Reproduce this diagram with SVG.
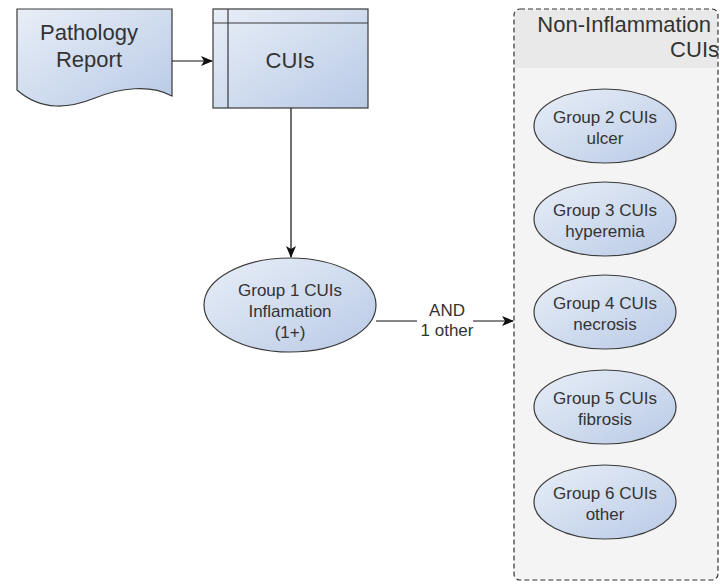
<svg xmlns="http://www.w3.org/2000/svg" width="720" height="584" viewBox="0 0 720 584">
<defs>
<linearGradient id="g" x1="0" y1="0" x2="1" y2="1">
<stop offset="0" stop-color="#e8eef7"/>
<stop offset="1" stop-color="#b9cae6"/>
</linearGradient>
<marker id="arr" markerWidth="12" markerHeight="10" refX="11" refY="5" orient="auto" markerUnits="userSpaceOnUse">
<path d="M0,0 L12,5 L0,10 L3,5 Z" fill="#111"/>
</marker>
<style>
.shape{fill:url(#g);stroke:#3a3a3a;stroke-width:1.2}
.big{font-family:"Liberation Sans",Arial,sans-serif;font-size:22px;fill:#333;text-anchor:middle}
.sm{font-family:"Liberation Sans",Arial,sans-serif;font-size:17px;fill:#333;text-anchor:middle}
.conn{stroke:#111;stroke-width:1.2;fill:none}
</style>
</defs>
<rect width="720" height="584" fill="#fff"/>
<g id="container">
<rect x="514" y="9" width="204" height="571" rx="6" fill="#f4f4f4" stroke="#333" stroke-width="1.2" stroke-dasharray="5,3"/>
<path d="M515,68 V15 Q515,10 520,10 H712 Q717,10 717,15 V68 Z" fill="#e9e9e9"/>
<text class="big" x="711" y="32" style="text-anchor:end">Non-Inflammation</text>
<text class="big" x="719" y="57" style="text-anchor:end">CUIs</text>
</g>
<g id="pathology">
<path class="shape" d="M17,9 H172 V96 C150,84 120,88 95,98 C70,108 42,112 17,90 Z"/>
<text class="big" x="89" y="40">Pathology</text>
<text class="big" x="89" y="67">Report</text>
</g>
<g id="cuis">
<rect class="shape" x="213" y="9" width="155" height="99"/>
<line x1="213" y1="23" x2="368" y2="23" stroke="#3a3a3a" stroke-width="1.2"/>
<line x1="228" y1="9" x2="228" y2="108" stroke="#3a3a3a" stroke-width="1.2"/>
<text class="big" x="290" y="68">CUIs</text>
</g>
<g id="group1">
<ellipse class="shape" cx="290" cy="305" rx="86" ry="47"/>
<text class="sm" x="290" y="296">Group 1 CUIs</text>
<text class="sm" x="290" y="317">Inflamation</text>
<text class="sm" x="290" y="338">(1+)</text>
</g>
<g id="group2">
<ellipse class="shape" cx="605" cy="126" rx="71" ry="37"/>
<text class="sm" x="605" y="123">Group 2 CUIs</text>
<text class="sm" x="605" y="144">ulcer</text>
</g>
<g id="group3">
<ellipse class="shape" cx="605" cy="219" rx="71" ry="37"/>
<text class="sm" x="605" y="216">Group 3 CUIs</text>
<text class="sm" x="605" y="237">hyperemia</text>
</g>
<g id="group4">
<ellipse class="shape" cx="605" cy="312" rx="71" ry="37"/>
<text class="sm" x="605" y="309">Group 4 CUIs</text>
<text class="sm" x="605" y="330">necrosis</text>
</g>
<g id="group5">
<ellipse class="shape" cx="605" cy="407" rx="71" ry="37"/>
<text class="sm" x="605" y="404">Group 5 CUIs</text>
<text class="sm" x="605" y="425">fibrosis</text>
</g>
<g id="group6">
<ellipse class="shape" cx="605" cy="502" rx="71" ry="37"/>
<text class="sm" x="605" y="499">Group 6 CUIs</text>
<text class="sm" x="605" y="520">other</text>
</g>
<g id="connectors">
<line class="conn" x1="172" y1="61" x2="212" y2="61" marker-end="url(#arr)"/>
<line class="conn" x1="291" y1="108" x2="291" y2="257" marker-end="url(#arr)"/>
<line class="conn" x1="376" y1="321" x2="513" y2="321" marker-end="url(#arr)"/>
<rect x="417" y="300" width="56" height="40" fill="#fff"/>
<text class="sm" x="447" y="316">AND</text>
<text class="sm" x="447" y="336">1 other</text>
</g>
</svg>
